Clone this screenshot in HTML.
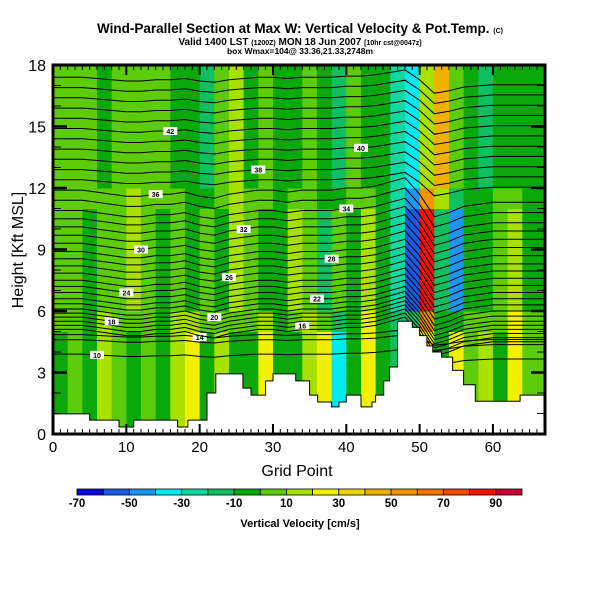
<!DOCTYPE html>
<html><head><meta charset="utf-8"><style>
body{margin:0;background:#fff;}
svg text{font-family:"Liberation Sans",sans-serif;font-weight:bold;}
</style></head><body>
<svg id="c" width="600" height="600" viewBox="0 0 600 600" xmlns="http://www.w3.org/2000/svg">
<text x="300" y="33" text-anchor="middle" font-size="13.5">Wind-Parallel Section at Max W: Vertical Velocity &amp; Pot.Temp. <tspan font-size="7">(C)</tspan></text>
<text x="300" y="45" text-anchor="middle" font-size="10">Valid 1400 LST <tspan font-size="7">(1200Z)</tspan> MON 18 Jun 2007 <tspan font-size="7">[10hr cst@0047z]</tspan></text>
<text x="300" y="54" text-anchor="middle" font-size="8.5">box Wmax=104@ 33.36,21.33,2748m</text>
<g id="field"></g>
<g id="contours"></g>
<g id="terrain"></g>
<g id="axes"></g>
<text x="297" y="476" text-anchor="middle" font-size="16" style="font-weight:normal">Grid Point</text>
<text transform="translate(23,250) rotate(-90)" text-anchor="middle" font-size="16" style="font-weight:normal">Height [Kft MSL]</text>
<g id="cbar"></g>
<text x="300" y="527" text-anchor="middle" font-size="11">Vertical Velocity [cm/s]</text>
</svg>
<script>
// ---- data ----
const xMax = 67.1, yMax = 18;
const wUpper = [5,5,5,-5,5,5,5,5,-5,-5,-15,5,15,-5,5,-5,-5,5,-5,-15,5,-5,-5,-25,-40,15,40,5,-5,-15,-5,-5,-5,-5];
const wMid   = [5,5,-5,5,5,15,5,-5,5,-5,5,-5,15,5,-5,-5,15,5,-15,5,-5,15,-5,-25,-55,85,-15,-45,-5,-5,5,15,-5,-5];
const wLow   = [-5,5,-5,15,5,-5,5,-5,15,25,-5,15,-5,-5,25,-5,-5,15,25,-35,-5,25,-5,-15,15,25,-5,25,5,15,-5,25,5,5];
const cbEdges = [-70,-60,-50,-40,-30,-20,-10,0,10,20,30,40,50,60,70,80,90,100];
const cbColors = ["#0a0adc","#1a5ae6","#1e96f0","#00eaf0","#10d8a0","#10c060","#0aa80a","#5ccc0a","#a8e000","#f0f000","#f0d400","#f0b000","#f09400","#f07400","#f04a00","#f01400","#c80032"];
const cbLabels = [-70,-50,-30,-10,10,30,50,70,90];
const xTicks = [0,10,20,30,40,50,60];
const yTicks = [0,3,6,9,12,15,18];
// terrain step function: segment start (grid) and height (kft)
const terrStart = [0,5,9,11,17,18.4,21,22.2,25.9,27,29,30,33.1,35,36.1,38,39,40,42,43.5,44,45.1,45.9,47,49,50,51,51.8,53,54.5,56,57.6,63.7];
const terrH     = [0.98,0.68,0.34,0.68,0.34,0.68,2.0,2.93,2.24,1.9,2.59,2.93,2.59,1.9,1.56,1.32,1.56,1.9,1.32,1.56,1.9,2.59,3.27,5.5,5.2,4.8,4.3,4.0,3.75,3.1,2.4,1.6,1.9];
// potential temperature isentropes (height at left edge, kft)
const thetaBase = [3.9,4.6,4.85,5.1,5.3,5.5,5.7,5.9,6.1,6.35,6.6,6.9,7.2,7.5,7.85,8.2,8.55,8.9,9.3,9.7,10.1,10.5,10.9,11.4,11.9,12.4,12.9,13.4,13.9,14.4,14.9,15.4,15.9,16.4,16.9,17.4];
const thetaLift = [0,0,0,-0.1,-0.2,-0.3,-0.3,-0.2,-0.2,-0.1,-0.3,-0.4,-0.2,-0.1,0,0,-0.1,0,0,0,0.1,0.1,0.2,0.4,0.6,-0.2,-1.3,-1.1,-0.8,-0.7,-0.6,-0.6,-0.6,-0.6];
const thetaLabels = ["10","14","16","18","20","22","24","26","28","30","32","34","36","38","40","42"];
// ---- scales ----
const X0=53,X1=545,Y0=434,Y1=65;
const sx = g => X0 + g/xMax*(X1-X0);
const sy = h => Y0 - h/yMax*(Y0-Y1);
const NS="http://www.w3.org/2000/svg";
function mk(tag,attrs,parent){const e=document.createElementNS(NS,tag);for(const k in attrs)e.setAttribute(k,attrs[k]);parent.appendChild(e);return e;}
function colorFor(v){for(let i=0;i<cbColors.length;i++){if(v<cbEdges[i+1])return cbColors[i];}return cbColors[cbColors.length-1];}
// ---- field ----
const field=document.getElementById('field');
const nCols=wUpper.length;
for(let i=0;i<nCols;i++){
  for(let r=0;r<36;r++){
    const h=r*0.5;
    let v;
    if(h<5) v=wLow[i]; else if(h<6) v=(wLow[i]+wMid[i])/2; else if(h<11) v=wMid[i]; else if(h<12) v=(wMid[i]+wUpper[i])/2; else v=wUpper[i];
    const g0=i*2, g1=Math.min(xMax,(i+1)*2);
    const rect=mk('rect',{x:sx(g0),y:sy(h+0.5),width:sx(g1)-sx(g0)+0.5,height:sy(h)-sy(h+0.5)+0.5,fill:colorFor(v)},field);
    
    
  }
}
// ---- contours ----
const cont=document.getElementById('contours');
thetaBase.forEach((b,k)=>{
  const wgt = b<5?0.4:(b<12?1:0.6);
  let d='';
  for(let i=0;i<=nCols;i++){
    const li=Math.min(i,nCols-1);
    const g=Math.min(xMax,i*2);
    const h=Math.min(yMax,b+thetaLift[li]*wgt);
    d+=(i?'L':'M')+sx(g).toFixed(1)+','+sy(h).toFixed(1);
  }
  const p=mk('path',{d:d,fill:'none',stroke:'#000','stroke-width':1},cont);
  
  
  if(k%2===0 && k/2<thetaLabels.length){
    const g=6+ (k*7)%40;
    const li=Math.min(Math.floor(g/2),nCols-1);
    const yy=sy(Math.min(yMax,b+thetaLift[li]*wgt));
    const bx=mk('rect',{x:sx(g)-7,y:yy-4,width:14,height:8,fill:'#fff'},cont);
    
    
    const t=mk('text',{x:sx(g),y:yy+3,'text-anchor':'middle','font-size':7},cont);
    t.textContent=thetaLabels[k/2];
    
    
  }
});
// ---- terrain ----
const terr=document.getElementById('terrain');
let td='M'+sx(0)+','+sy(0);
terrStart.forEach((g,i)=>{
  const gEnd = i+1<terrStart.length ? terrStart[i+1] : xMax;
  td+='L'+sx(g).toFixed(1)+','+sy(terrH[i]).toFixed(1)+'L'+sx(gEnd).toFixed(1)+','+sy(terrH[i]).toFixed(1);
});
td+='L'+sx(xMax)+','+sy(0)+'Z';
const tp=mk('path',{d:td,fill:'#fff'},terr);


const tl=mk('path',{d:td,fill:'none',stroke:'#000','stroke-width':1},terr);


// ---- axes ----
const ax=document.getElementById('axes');
const fr=mk('rect',{x:X0,y:Y1,width:X1-X0,height:Y0-Y1,fill:'none',stroke:'#000','stroke-width':3},ax);


for(let g=1;g<xMax;g++){
  const L=g%10===0?10:5;
  mk('line',{x1:sx(g),x2:sx(g),y1:Y0,y2:Y0-L,stroke:'#000','stroke-width':g%10===0?2:1},ax);
  mk('line',{x1:sx(g),x2:sx(g),y1:Y1,y2:Y1+L,stroke:'#000','stroke-width':g%10===0?2:1},ax);
}
for(let h=1;h<yMax;h++){
  const L=h%3===0?14:8;
  mk('line',{x1:X0,x2:X0+L,y1:sy(h),y2:sy(h),stroke:'#000','stroke-width':h%3===0?2.5:1},ax);
  mk('line',{x1:X1,x2:X1-L,y1:sy(h),y2:sy(h),stroke:'#000','stroke-width':h%3===0?2.5:1},ax);
}
xTicks.forEach(v=>{const t=mk('text',{x:sx(v),y:452,'text-anchor':'middle','font-size':15,style:'font-weight:normal'},ax);t.textContent=v;
  });
yTicks.forEach(v=>{const t=mk('text',{x:46,y:sy(v)+6,'text-anchor':'end','font-size':16,style:'font-weight:normal'},ax);t.textContent=v;
  });
// ---- colorbar ----
const cb=document.getElementById('cbar');
const CB0=77,CB1=522,cbY=489,cbH=6;
const cs=v=>CB0+(v-cbEdges[0])/(cbEdges[cbEdges.length-1]-cbEdges[0])*(CB1-CB0);
cbColors.forEach((c,i)=>{const r=mk('rect',{x:cs(cbEdges[i]),y:cbY,width:cs(cbEdges[i+1])-cs(cbEdges[i]),height:cbH,fill:c,stroke:'#000','stroke-width':0.8},cb);
  });
cbLabels.forEach(v=>{const t=mk('text',{x:cs(v),y:507,'text-anchor':'middle','font-size':11.5},cb);t.textContent=v;
  });
</script>
</body></html>
